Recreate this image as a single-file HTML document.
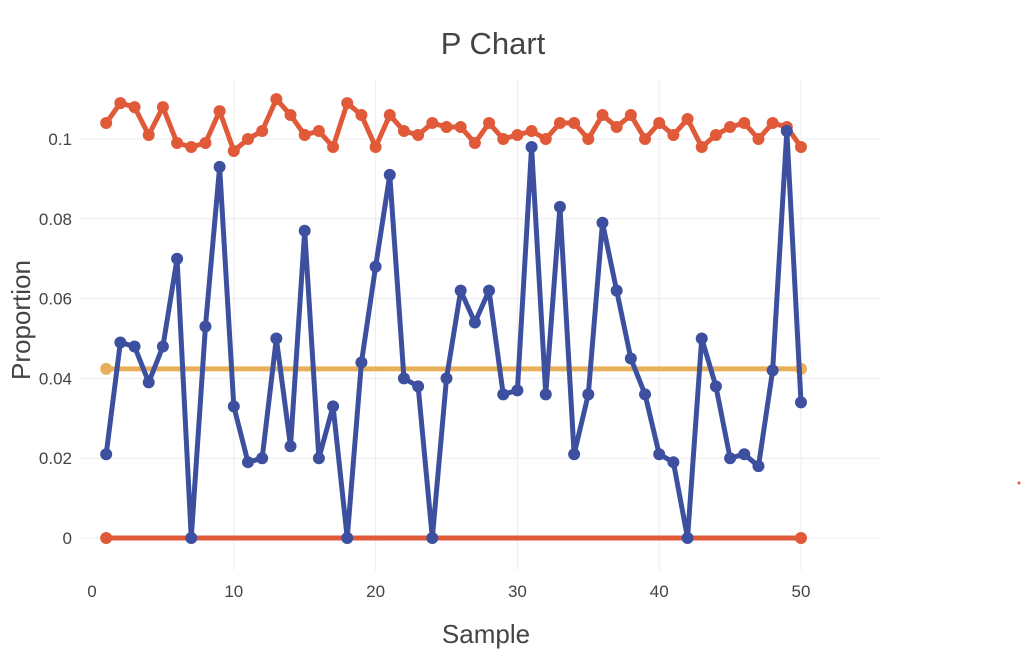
<!DOCTYPE html>
<html><head><meta charset="utf-8"><style>
body{margin:0;background:#fff;}
svg{display:block;font-family:"Liberation Sans",sans-serif;}
</style></head><body>
<svg width="1023" height="670">
<text x="493" y="54" text-anchor="middle" font-size="31" fill="#444">P Chart</text>
<g id="grid"></g>
<g id="marks"></g>
<g id="ticks"></g>
<text x="486" y="643" text-anchor="middle" font-size="26" fill="#444">Sample</text>
<text transform="translate(30,320) rotate(-90)" text-anchor="middle" font-size="26" fill="#444">Proportion</text>
<circle cx="1019" cy="483" r="1.5" fill="#e05a3a"></circle>
</svg>
<script>
const samples=[];for(let i=1;i<=50;i++)samples.push(i);
const proportion=[0.021,0.049,0.048,0.039,0.048,0.070,0,0.053,0.093,0.033,0.019,0.020,0.050,0.023,0.077,0.020,0.033,0,0.044,0.068,0.091,0.040,0.038,0,0.040,0.062,0.054,0.062,0.036,0.037,0.098,0.036,0.083,0.021,0.036,0.079,0.062,0.045,0.036,0.021,0.019,0,0.050,0.038,0.020,0.021,0.018,0.042,0.102,0.034];
const ucl=[0.104,0.109,0.108,0.101,0.108,0.099,0.098,0.099,0.107,0.097,0.100,0.102,0.110,0.106,0.101,0.102,0.098,0.109,0.106,0.098,0.106,0.102,0.101,0.104,0.103,0.103,0.099,0.104,0.100,0.101,0.102,0.100,0.104,0.104,0.100,0.106,0.103,0.106,0.100,0.104,0.101,0.105,0.098,0.101,0.103,0.104,0.100,0.104,0.103,0.098];
const centerLine=[0.0424,0.0424];
const lcl=[0,0];
const limitX=[1,50];
const xTicks=[0,10,20,30,40,50];
const yTicks=[0,0.02,0.04,0.06,0.08,0.1];
const yTickLabels=["0","0.02","0.04","0.06","0.08","0.1"];
const X=v=>92+v*14.18, Y=v=>538-v*3990;
const NS="http://www.w3.org/2000/svg";
function mk(t,a,p){const e=document.createElementNS(NS,t);for(const k in a)e.setAttribute(k,a[k]);p.appendChild(e);return e;}
const grid=document.getElementById('grid'),marks=document.getElementById('marks'),ticks=document.getElementById('ticks');
yTicks.forEach((v,i)=>{
 const l=mk('line',{x1:80,x2:880,y1:Y(v),y2:Y(v),stroke:'#ececec','stroke-width':1},grid);
 
 
 const t=mk('text',{x:72,y:Y(v)+6,'text-anchor':'end','font-size':17,fill:'#444'},ticks);t.textContent=yTickLabels[i];
 
 
});
xTicks.forEach(v=>{
 if(v>0){const l=mk('line',{x1:X(v),x2:X(v),y1:80,y2:570,stroke:'#ececec','stroke-width':1},grid);
 
 }
 const t=mk('text',{x:X(v),y:597,'text-anchor':'middle','font-size':17,fill:'#444'},ticks);t.textContent=v;
 
 
});
function series(xs,ys,color,name,w,r){
 const g=mk('g',{},marks);
 
 
 const p=mk('polyline',{points:xs.map((x,i)=>X(x)+','+Y(ys[i])).join(' '),fill:'none',stroke:color,'stroke-width':w,'stroke-linejoin':'round'},g);
 
 
 xs.forEach((x,i)=>{const c=mk('circle',{cx:X(x),cy:Y(ys[i]),r:r,fill:color},g);
 
 });
}
series(limitX,lcl,'#e05a3a','lcl',5,6);
series(limitX,centerLine,'#e8b05a','center-line',5,6);
series(samples,ucl,'#e05a3a','ucl',5,6);
series(samples,proportion,'#3d4f9f','proportion',5,6);
</script>
</body></html>
